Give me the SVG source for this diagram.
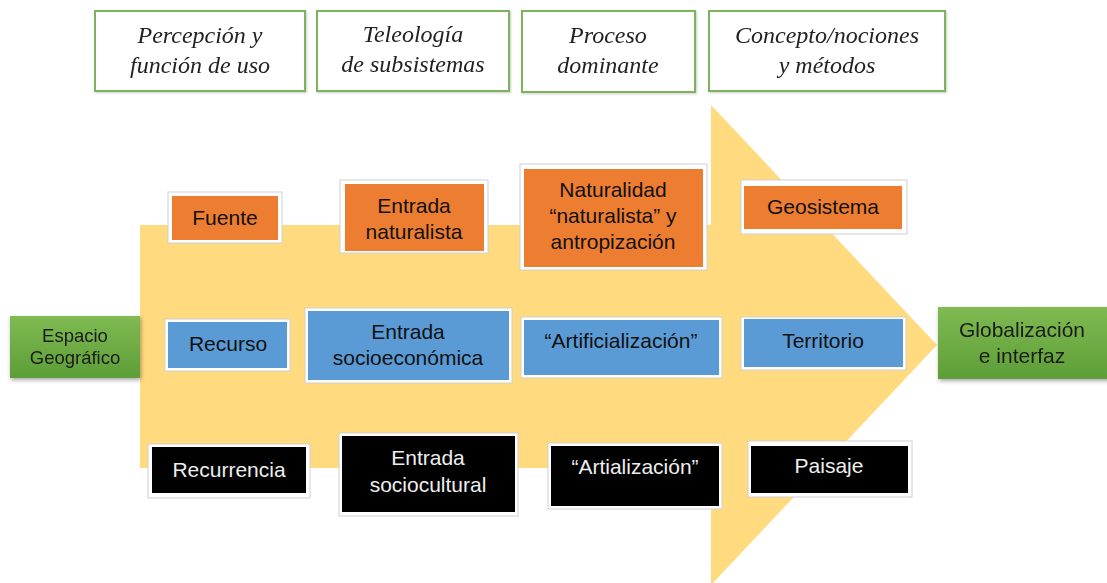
<svg xmlns="http://www.w3.org/2000/svg" width="1107" height="583" viewBox="0 0 1107 583">
<defs>
<linearGradient id="gg" x1="0" y1="0" x2="0" y2="1">
<stop offset="0" stop-color="#7FBA52"/>
<stop offset="1" stop-color="#5E9E37"/>
</linearGradient>
<filter id="sh" x="-10%" y="-10%" width="130%" height="140%">
<feDropShadow dx="1" dy="2" stdDeviation="2" flood-color="#000" flood-opacity="0.35"/>
</filter>
<filter id="sh2" x="-5%" y="-5%" width="115%" height="120%">
<feDropShadow dx="1" dy="1" stdDeviation="1" flood-color="#000" flood-opacity="0.2"/>
</filter>
</defs>
<style>
.hdr{fill:#fff;stroke:#7DB35C;stroke-width:2}
.ht{font-family:"Liberation Serif",serif;font-style:italic;font-size:24px;fill:#222;text-anchor:middle}
.frame{fill:#fff;stroke:#cfcfcf;stroke-width:1}
.or{fill:#ED7D31}
.bl{fill:#5B9BD5}
.bk{fill:#000}
.t{font-family:"Liberation Sans",Arial,sans-serif;font-size:21px;fill:#111;text-anchor:middle}
.tw{font-family:"Liberation Sans",Arial,sans-serif;font-size:21px;fill:#eee;text-anchor:middle}
.gt{font-family:"Liberation Sans",Arial,sans-serif;fill:#1a1a1a;text-anchor:middle}
</style>
<rect width="1107" height="583" fill="#fff"/>

<g id="connectors">
<polygon points="140,225 711,225 711,105 937,345 711,585 711,468 140,468" fill="#FFDA7E"/>
</g>

<g id="h1" filter="url(#sh2)"><rect class="hdr" x="95" y="11" width="210" height="80"/>
<text class="ht" x="200" y="43">Percepción y</text><text class="ht" x="200" y="73">función de uso</text></g>
<g id="h2" filter="url(#sh2)"><rect class="hdr" x="317" y="11" width="192" height="80"/>
<text class="ht" x="413" y="42">Teleología</text><text class="ht" x="413" y="72">de subsistemas</text></g>
<g id="h3" filter="url(#sh2)"><rect class="hdr" x="522" y="11" width="173" height="81"/>
<text class="ht" x="608" y="43">Proceso</text><text class="ht" x="608" y="73">dominante</text></g>
<g id="h4" filter="url(#sh2)"><rect class="hdr" x="709" y="11" width="236" height="80"/>
<text class="ht" x="827" y="43">Concepto/nociones</text><text class="ht" x="827" y="73">y métodos</text></g>

<g id="espacio" filter="url(#sh)"><rect x="10" y="316" width="130" height="62" fill="url(#gg)"/>
<text class="gt" font-size="18.5" x="75" y="342">Espacio</text><text class="gt" font-size="18.5" x="75" y="364">Geográfico</text></g>
<g id="globalizacion" filter="url(#sh)"><rect x="938" y="307" width="175" height="72" fill="url(#gg)"/>
<text class="gt" font-size="21" x="1022" y="337">Globalización</text><text class="gt" font-size="21" x="1022" y="363">e interfaz</text></g>

<g id="fuente"><rect class="frame" x="168" y="192" width="114" height="51"/><rect class="or" x="172" y="196" width="106" height="44"/>
<text class="t" x="225" y="225">Fuente</text></g>
<g id="entrada-naturalista"><rect class="frame" x="340" y="180" width="148" height="73"/><rect class="or" x="345" y="184" width="139" height="67"/>
<text class="t" x="414" y="213">Entrada</text><text class="t" x="414" y="239">naturalista</text></g>
<g id="naturalidad"><rect class="frame" x="520" y="164" width="187" height="106"/><rect class="or" x="524" y="169" width="179" height="98"/>
<text class="t" x="613" y="197">Naturalidad</text><text class="t" x="613" y="223">“naturalista” y</text><text class="t" x="613" y="249">antropización</text></g>
<g id="geosistema"><rect class="frame" x="741" y="180" width="166" height="54"/><rect class="or" x="744" y="186" width="158" height="43"/>
<text class="t" x="823" y="214">Geosistema</text></g>

<g id="recurso"><rect class="frame" x="165" y="319" width="125" height="52"/><rect class="bl" x="168" y="322" width="119" height="46"/>
<text class="t" x="228" y="351">Recurso</text></g>
<g id="entrada-socioeconomica"><rect class="frame" x="305" y="308" width="207" height="75"/><rect class="bl" x="308" y="311" width="201" height="69"/>
<text class="t" x="408" y="339">Entrada</text><text class="t" x="408" y="365">socioeconómica</text></g>
<g id="artificializacion"><rect class="frame" x="521" y="317" width="201" height="61"/><rect class="bl" x="524" y="320" width="195" height="55"/>
<text class="t" x="621" y="348">“Artificialización”</text></g>
<g id="territorio"><rect class="frame" x="741" y="317" width="165" height="53"/><rect class="bl" x="744" y="319" width="159" height="48"/>
<text class="t" x="823" y="348">Territorio</text></g>

<g id="recurrencia"><rect class="frame" x="148" y="444" width="162" height="54"/><rect class="bk" x="152" y="447" width="154" height="46"/>
<text class="tw" x="229" y="477">Recurrencia</text></g>
<g id="entrada-sociocultural"><rect class="frame" x="339" y="433" width="179" height="83"/><rect class="bk" x="342" y="436" width="173" height="76"/>
<text class="tw" x="428" y="465">Entrada</text><text class="tw" x="428" y="492">sociocultural</text></g>
<g id="artializacion"><rect class="frame" x="548" y="443" width="174" height="66"/><rect class="bk" x="551" y="446" width="168" height="60"/>
<text class="tw" x="635" y="474">“Artialización”</text></g>
<g id="paisaje"><rect class="frame" x="748" y="441" width="164" height="56"/><rect class="bk" x="751" y="446" width="157" height="47"/>
<text class="tw" x="829" y="473">Paisaje</text></g>
</svg>
